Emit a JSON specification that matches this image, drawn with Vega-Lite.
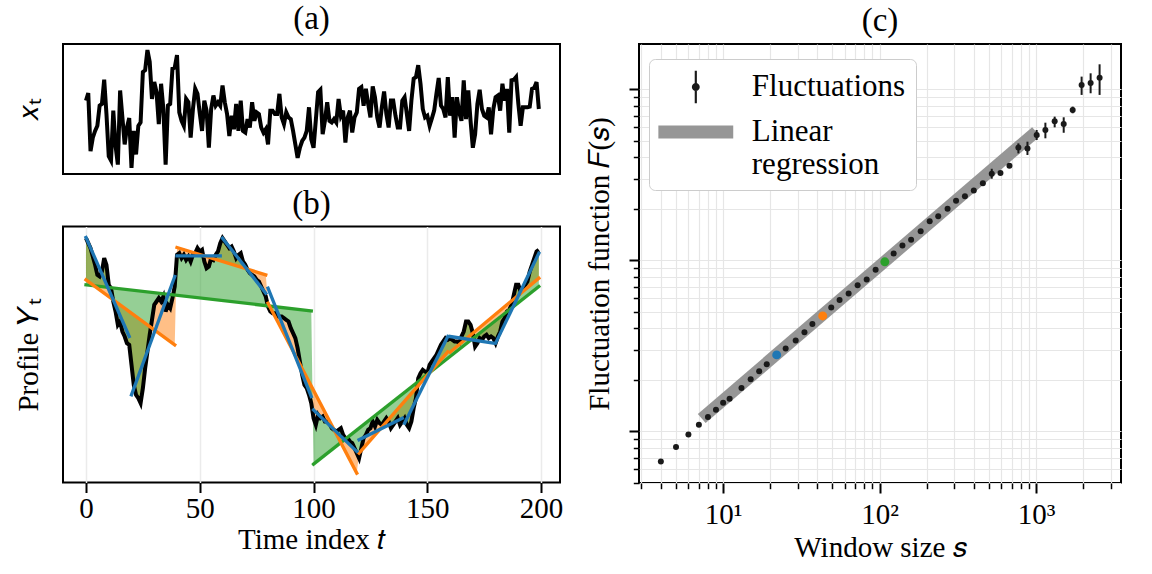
{
"$schema": "https://vega.github.io/schema/vega-lite/v6.json",
"padding": {"left": 13, "top": 2, "right": 5, "bottom": 5},
"config": {
  "font": "Liberation Serif",
  "view": {"stroke": "black", "strokeWidth": 2},
  "axis": {"domain": false, "labelFont": "Liberation Serif", "titleFont": "Liberation Serif", "labelFontSize": 29, "titleFontSize": 29, "titleFontWeight": "normal", "labelColor": "black", "titleColor": "black", "tickColor": "black", "tickWidth": 2, "tickSize": 10, "grid": false},
  "title": {"font": "Liberation Serif", "fontSize": 33, "fontWeight": "normal", "color": "black", "baseline": "alphabetic", "offset": 6}
},
"datasets": {
"ts": [
{"t":0,"x":21.8,"y":73.3,"o":60.8,"g":59.3},{"t":1,"x":24.0,"y":71.8,"o":60.3,"g":59.2},{"t":2,"x":6.8,"y":70.3,"o":59.8,"g":59.1},{"t":3,"x":10.8,"y":67.8,"o":59.3,"g":59.1},{"t":4,"x":12.8,"y":65.3,"o":58.8,"g":59.0},
{"t":5,"x":14.3,"y":62.3,"o":58.3,"g":58.9},{"t":6,"x":20.3,"y":61.8,"o":57.8,"g":58.8},{"t":7,"x":20.8,"y":63.3,"o":57.3,"g":58.7},{"t":8,"x":28.0,"y":67.3,"o":56.8,"g":58.7},{"t":9,"x":17.8,"y":65.3,"o":56.3,"g":58.6},
{"t":10,"x":5.3,"y":59.3,"o":55.8,"g":58.5},{"t":11,"x":4.0,"y":58.3,"o":55.3,"g":58.4},{"t":12,"x":18.8,"y":54.3,"o":54.8,"g":58.4},{"t":13,"x":8.3,"y":51.3,"o":54.3,"g":58.3},{"t":14,"x":2.8,"y":47.3,"o":53.8,"g":58.2},
{"t":15,"x":24.8,"y":48.3,"o":53.3,"g":58.1},{"t":16,"x":16.8,"y":45.3,"o":52.8,"g":58.0},{"t":17,"x":8.8,"y":43.8,"o":52.3,"g":58.0},{"t":18,"x":13.8,"y":41.8,"o":51.8,"g":57.9},{"t":19,"x":16.6,"y":41.3,"o":51.3,"g":57.8},
{"t":20,"x":1.8,"y":35.3,"o":50.8,"g":57.7},{"t":21,"x":12.8,"y":29.3,"o":50.3,"g":57.6},{"t":22,"x":5.8,"y":26.3,"o":49.8,"g":57.6},{"t":23,"x":14.3,"y":25.3,"o":49.3,"g":57.5},{"t":24,"x":15.3,"y":23.8,"o":48.8,"g":57.4},
{"t":25,"x":30.3,"y":28.3,"o":48.3,"g":57.3},{"t":26,"x":30.8,"y":34.3,"o":47.8,"g":57.2},{"t":27,"x":36.8,"y":39.3,"o":47.3,"g":57.2},{"t":28,"x":33.3,"y":44.3,"o":46.8,"g":57.1},{"t":29,"x":22.3,"y":48.8,"o":46.3,"g":57.0},
{"t":30,"x":27.3,"y":53.3,"o":45.8,"g":56.9},{"t":31,"x":24.3,"y":54.3,"o":45.3,"g":56.9},{"t":32,"x":14.8,"y":55.3,"o":44.8,"g":56.8},{"t":33,"x":26.8,"y":54.3,"o":44.3,"g":56.7},{"t":34,"x":19.3,"y":55.8,"o":43.8,"g":56.6},
{"t":35,"x":2.8,"y":51.3,"o":43.3,"g":56.5},{"t":36,"x":20.3,"y":53.3,"o":42.8,"g":56.5},{"t":37,"x":20.8,"y":52.3,"o":42.3,"g":56.4},{"t":38,"x":31.3,"y":55.3,"o":41.8,"g":56.3},{"t":39,"x":31.6,"y":58.8,"o":41.3,"g":56.2},
{"t":40,"x":35.3,"y":68.3,"o":70.5,"g":56.1},{"t":41,"x":18.3,"y":68.8,"o":70.3,"g":56.1},{"t":42,"x":15.8,"y":67.3,"o":70.1,"g":56.0},{"t":43,"x":14.3,"y":68.3,"o":69.9,"g":55.9},{"t":44,"x":22.3,"y":66.8,"o":69.7,"g":55.8},
{"t":45,"x":21.3,"y":67.8,"o":69.5,"g":55.7},{"t":46,"x":10.8,"y":66.3,"o":69.2,"g":55.7},{"t":47,"x":19.3,"y":68.3,"o":69.0,"g":55.6},{"t":48,"x":25.3,"y":68.8,"o":68.8,"g":55.5},{"t":49,"x":23.8,"y":70.3,"o":68.6,"g":55.4},
{"t":50,"x":18.0,"y":69.3,"o":68.4,"g":55.4},{"t":51,"x":12.8,"y":69.8,"o":68.2,"g":55.3},{"t":52,"x":21.8,"y":66.3,"o":68.0,"g":55.2},{"t":53,"x":18.8,"y":64.3,"o":67.8,"g":55.1},{"t":54,"x":7.8,"y":64.8,"o":67.6,"g":55.0},
{"t":55,"x":19.3,"y":67.3,"o":67.4,"g":55.0},{"t":56,"x":23.3,"y":66.8,"o":67.1,"g":54.9},{"t":57,"x":20.3,"y":68.3,"o":66.9,"g":54.8},{"t":58,"x":21.3,"y":69.3,"o":66.7,"g":54.7},{"t":59,"x":20.3,"y":71.8,"o":66.5,"g":54.6},
{"t":60,"x":26.3,"y":73.3,"o":66.3,"g":54.6},{"t":61,"x":21.3,"y":72.3,"o":66.1,"g":54.5},{"t":62,"x":17.8,"y":71.3,"o":65.9,"g":54.4},{"t":63,"x":11.3,"y":70.3,"o":65.7,"g":54.3},{"t":64,"x":17.3,"y":70.8,"o":65.5,"g":54.3},
{"t":65,"x":13.3,"y":69.3,"o":65.3,"g":54.2},{"t":66,"x":20.8,"y":67.3,"o":65.0,"g":54.1},{"t":67,"x":12.8,"y":68.3,"o":64.8,"g":54.0},{"t":68,"x":21.8,"y":68.8,"o":64.6,"g":53.9},{"t":69,"x":12.8,"y":66.3,"o":64.4,"g":53.9},
{"t":70,"x":12.3,"y":65.3,"o":64.2,"g":53.8},{"t":71,"x":16.3,"y":63.8,"o":64.0,"g":53.7},{"t":72,"x":13.8,"y":62.8,"o":63.8,"g":53.6},{"t":73,"x":21.3,"y":62.3,"o":63.6,"g":53.5},{"t":74,"x":15.8,"y":61.8,"o":63.4,"g":53.5},
{"t":75,"x":18.3,"y":60.8,"o":63.2,"g":53.4},{"t":76,"x":17.8,"y":60.3,"o":62.9,"g":53.3},{"t":77,"x":13.8,"y":58.8,"o":62.7,"g":53.2},{"t":78,"x":12.3,"y":57.3,"o":62.5,"g":53.2},{"t":79,"x":13.3,"y":55.8,"o":62.3,"g":53.1},
{"t":80,"x":8.8,"y":52.8,"o":53.8,"g":53.0},{"t":81,"x":18.8,"y":51.3,"o":52.5,"g":52.9},{"t":82,"x":18.8,"y":50.8,"o":51.2,"g":52.8},{"t":83,"x":17.8,"y":50.8,"o":49.9,"g":52.8},{"t":84,"x":17.8,"y":49.8,"o":48.6,"g":52.7},
{"t":85,"x":23.8,"y":49.8,"o":47.3,"g":52.6},{"t":86,"x":16.8,"y":49.8,"o":46.0,"g":52.5},{"t":87,"x":14.8,"y":49.3,"o":44.6,"g":52.4},{"t":88,"x":18.3,"y":48.8,"o":43.3,"g":52.4},{"t":89,"x":16.8,"y":48.3,"o":42.0,"g":52.3},
{"t":90,"x":16.3,"y":46.3,"o":40.7,"g":52.2},{"t":91,"x":12.8,"y":44.8,"o":39.4,"g":52.1},{"t":92,"x":8.8,"y":43.3,"o":38.1,"g":52.0},{"t":93,"x":4.8,"y":40.3,"o":36.8,"g":52.0},{"t":94,"x":7.8,"y":36.3,"o":35.5,"g":51.9},
{"t":95,"x":9.8,"y":32.3,"o":34.2,"g":51.8},{"t":96,"x":10.8,"y":29.3,"o":32.9,"g":51.7},{"t":97,"x":12.8,"y":28.3,"o":31.6,"g":51.7},{"t":98,"x":19.8,"y":26.3,"o":30.3,"g":51.6},{"t":99,"x":10.3,"y":23.8,"o":28.9,"g":51.5},
{"t":100,"x":7.8,"y":19.3,"o":27.6,"g":5.5},{"t":101,"x":16.0,"y":17.3,"o":26.3,"g":6.0},{"t":102,"x":24.3,"y":20.3,"o":25.0,"g":6.6},{"t":103,"x":25.0,"y":19.3,"o":23.7,"g":7.1},{"t":104,"x":11.8,"y":19.8,"o":22.4,"g":7.7},
{"t":105,"x":15.8,"y":18.3,"o":21.1,"g":8.2},{"t":106,"x":21.3,"y":18.3,"o":19.8,"g":8.7},{"t":107,"x":15.8,"y":17.8,"o":18.5,"g":9.3},{"t":108,"x":15.3,"y":16.3,"o":17.2,"g":9.8},{"t":109,"x":16.3,"y":15.8,"o":15.9,"g":10.3},
{"t":110,"x":15.3,"y":15.3,"o":14.6,"g":10.9},{"t":111,"x":22.3,"y":15.8,"o":13.3,"g":11.4},{"t":112,"x":17.3,"y":16.3,"o":12.0,"g":12.0},{"t":113,"x":18.8,"y":14.3,"o":10.6,"g":12.5},{"t":114,"x":9.3,"y":13.3,"o":9.3,"g":13.0},
{"t":115,"x":16.8,"y":13.3,"o":8.0,"g":13.6},{"t":116,"x":18.8,"y":12.3,"o":6.7,"g":14.1},{"t":117,"x":12.3,"y":11.8,"o":5.4,"g":14.7},{"t":118,"x":16.8,"y":10.3,"o":4.1,"g":15.2},{"t":119,"x":18.3,"y":8.8,"o":2.8,"g":15.7},
{"t":120,"x":25.3,"y":7.3,"o":8.8,"g":16.3},{"t":121,"x":25.8,"y":10.3,"o":9.6,"g":16.8},{"t":122,"x":20.3,"y":13.3,"o":10.4,"g":17.3},{"t":123,"x":25.3,"y":14.3,"o":11.1,"g":17.9},{"t":124,"x":20.8,"y":15.8,"o":11.9,"g":18.4},
{"t":125,"x":16.8,"y":16.3,"o":12.7,"g":19.0},{"t":126,"x":26.0,"y":18.3,"o":13.5,"g":19.5},{"t":127,"x":22.8,"y":16.8,"o":14.3,"g":20.0},{"t":128,"x":16.8,"y":18.8,"o":15.0,"g":20.6},{"t":129,"x":13.8,"y":17.8,"o":15.8,"g":21.1},
{"t":130,"x":19.8,"y":17.3,"o":16.6,"g":21.7},{"t":131,"x":24.5,"y":18.3,"o":17.4,"g":22.2},{"t":132,"x":17.8,"y":19.3,"o":18.2,"g":22.7},{"t":133,"x":13.8,"y":18.3,"o":18.9,"g":23.3},{"t":134,"x":21.8,"y":16.3,"o":19.7,"g":23.8},
{"t":135,"x":21.8,"y":17.3,"o":20.5,"g":24.3},{"t":136,"x":17.3,"y":18.3,"o":21.3,"g":24.9},{"t":137,"x":13.8,"y":19.3,"o":22.1,"g":25.4},{"t":138,"x":13.8,"y":17.3,"o":22.8,"g":26.0},{"t":139,"x":21.8,"y":18.3,"o":23.6,"g":26.5},
{"t":140,"x":22.8,"y":19.3,"o":24.4,"g":27.0},{"t":141,"x":17.8,"y":17.3,"o":25.2,"g":27.6},{"t":142,"x":12.8,"y":16.3,"o":26.0,"g":28.1},{"t":143,"x":21.8,"y":18.3,"o":26.7,"g":28.7},{"t":144,"x":28.3,"y":22.3,"o":27.5,"g":29.2},
{"t":145,"x":28.8,"y":25.3,"o":28.3,"g":29.7},{"t":146,"x":32.3,"y":31.3,"o":29.1,"g":30.3},{"t":147,"x":26.8,"y":32.8,"o":29.9,"g":30.8},{"t":148,"x":19.3,"y":33.8,"o":30.6,"g":31.3},{"t":149,"x":16.8,"y":33.3,"o":31.4,"g":31.9},
{"t":150,"x":17.3,"y":32.8,"o":32.2,"g":32.4},{"t":151,"x":14.3,"y":35.3,"o":33.0,"g":33.0},{"t":152,"x":16.5,"y":36.3,"o":33.8,"g":33.5},{"t":153,"x":18.8,"y":37.3,"o":34.5,"g":34.0},{"t":154,"x":23.8,"y":38.3,"o":35.3,"g":34.6},
{"t":155,"x":28.5,"y":39.8,"o":36.1,"g":35.1},{"t":156,"x":20.3,"y":41.3,"o":36.9,"g":35.7},{"t":157,"x":19.3,"y":42.3,"o":37.7,"g":36.2},{"t":158,"x":16.8,"y":43.3,"o":38.4,"g":36.7},{"t":159,"x":28.8,"y":42.8,"o":39.2,"g":37.3},
{"t":160,"x":17.3,"y":43.3,"o":39.1,"g":37.8},{"t":161,"x":22.8,"y":42.8,"o":39.7,"g":38.3},{"t":162,"x":10.8,"y":42.3,"o":40.2,"g":38.9},{"t":163,"x":22.8,"y":42.3,"o":40.8,"g":39.4},{"t":164,"x":18.3,"y":41.8,"o":41.4,"g":40.0},
{"t":165,"x":15.8,"y":43.8,"o":41.9,"g":40.5},{"t":166,"x":27.8,"y":45.3,"o":42.5,"g":41.0},{"t":167,"x":16.3,"y":48.3,"o":43.1,"g":41.6},{"t":168,"x":24.8,"y":48.3,"o":43.7,"g":42.1},{"t":169,"x":15.8,"y":47.3,"o":44.2,"g":42.7},
{"t":170,"x":7.8,"y":44.8,"o":44.8,"g":43.2},{"t":171,"x":11.8,"y":40.8,"o":45.4,"g":43.7},{"t":172,"x":20.8,"y":41.8,"o":45.9,"g":44.3},{"t":173,"x":25.0,"y":43.3,"o":46.5,"g":44.8},{"t":174,"x":19.3,"y":42.8,"o":47.1,"g":45.3},
{"t":175,"x":17.3,"y":43.8,"o":47.6,"g":45.9},{"t":176,"x":16.8,"y":44.3,"o":48.2,"g":46.4},{"t":177,"x":19.8,"y":43.3,"o":48.8,"g":47.0},{"t":178,"x":11.8,"y":43.8,"o":49.4,"g":47.5},{"t":179,"x":19.3,"y":43.3,"o":49.9,"g":48.0},
{"t":180,"x":22.8,"y":41.8,"o":50.5,"g":48.6},{"t":181,"x":23.3,"y":43.8,"o":51.1,"g":49.1},{"t":182,"x":18.8,"y":45.3,"o":51.6,"g":49.7},{"t":183,"x":26.8,"y":48.3,"o":52.2,"g":50.2},{"t":184,"x":21.8,"y":49.3,"o":52.8,"g":50.7},
{"t":185,"x":25.3,"y":51.3,"o":53.4,"g":51.3},{"t":186,"x":12.3,"y":51.8,"o":53.9,"g":51.8},{"t":187,"x":27.8,"y":53.3,"o":54.5,"g":52.3},{"t":188,"x":28.0,"y":56.3,"o":55.1,"g":52.9},{"t":189,"x":28.8,"y":59.3,"o":55.6,"g":53.4},
{"t":190,"x":20.8,"y":59.3,"o":56.2,"g":54.0},{"t":191,"x":14.3,"y":57.3,"o":56.8,"g":54.5},{"t":192,"x":19.8,"y":58.3,"o":57.3,"g":55.0},{"t":193,"x":19.8,"y":59.3,"o":57.9,"g":55.6},{"t":194,"x":19.8,"y":60.3,"o":58.5,"g":56.1},
{"t":195,"x":20.0,"y":63.3,"o":59.1,"g":56.6},{"t":196,"x":25.3,"y":65.3,"o":59.6,"g":57.2},{"t":197,"x":25.6,"y":67.3,"o":60.2,"g":57.7},{"t":198,"x":27.3,"y":69.3,"o":60.8,"g":58.3},{"t":199,"x":19.3,"y":69.8,"o":61.3,"g":58.8}
],
"blue": [
{"w":0,"t":0,"v":73.5},{"w":0,"t":19,"v":43.8},{"w":1,"t":20,"v":26.3},{"w":1,"t":39,"v":61.8},
{"w":2,"t":40,"v":68.0},{"w":2,"t":59,"v":68.0},{"w":3,"t":60,"v":73.3},{"w":3,"t":79,"v":56.8},
{"w":4,"t":80,"v":58.3},{"w":4,"t":99,"v":25.8},{"w":5,"t":100,"v":21.8},{"w":5,"t":119,"v":9.3},
{"w":6,"t":120,"v":12.8},{"w":6,"t":139,"v":19.3},{"w":7,"t":140,"v":17.8},{"w":7,"t":159,"v":43.8},
{"w":8,"t":160,"v":43.8},{"w":8,"t":179,"v":41.8},{"w":9,"t":180,"v":41.8},{"w":9,"t":199,"v":68.8}
],
"orange": [
{"w":0,"t":0,"v":60.8},{"w":0,"t":39,"v":41.3},{"w":1,"t":40,"v":70.5},{"w":1,"t":79,"v":62.3},
{"w":2,"t":80,"v":53.8},{"w":2,"t":119,"v":2.8},{"w":3,"t":120,"v":8.8},{"w":3,"t":159,"v":39.2},
{"w":4,"t":160,"v":39.1},{"w":4,"t":199,"v":61.3}
],
"green": [
{"w":0,"t":0,"v":59.3},{"w":0,"t":99,"v":51.5},{"w":1,"t":100,"v":5.5},{"w":1,"t":199,"v":58.8}
],
"dfa": [
{"s":4.0,"F":0.667},{"s":5.0,"F":0.81},{"s":6.0,"F":0.96},{"s":7.0,"F":1.094},{"s":8.0,"F":1.213},
{"s":9.0,"F":1.34},{"s":10,"F":1.472},{"s":11,"F":1.553},{"s":13.1,"F":1.794},{"s":15.0,"F":2.016},
{"s":17.0,"F":2.245},{"s":19.0,"F":2.466},{"s":25.1,"F":3.05},{"s":29.1,"F":3.40},
{"s":33.1,"F":3.80},{"s":37.2,"F":4.25},{"s":49.1,"F":5.30},{"s":55.5,"F":5.87},
{"s":63.4,"F":6.40},{"s":72.4,"F":7.16},{"s":82.7,"F":7.73},{"s":94.3,"F":8.80},{"s":123,"F":10.96},
{"s":140,"F":12.2},{"s":159,"F":13.2},{"s":183,"F":14.8},{"s":209,"F":16.9},{"s":237,"F":18.1},
{"s":272,"F":20.0},{"s":308,"F":22.3},{"s":351,"F":23.7},{"s":400,"F":25.6},{"s":457,"F":28.2},
{"s":521,"F":32.1},{"s":592,"F":32.4},{"s":676,"F":35.7},{"s":771,"F":45.6},{"s":881,"F":45.1},
{"s":1009,"F":54.0},{"s":1147,"F":57.8},{"s":1315,"F":65.0},{"s":1502,"F":62.7},{"s":1714,"F":75.7},
{"s":1955,"F":106},{"s":2232,"F":109},{"s":2547,"F":117}
],
"err": [
{"s":521,"lo":30.0,"hi":34.3},{"s":771,"lo":42.2,"hi":48.3},{"s":881,"lo":41.3,"hi":49.4},
{"s":1009,"lo":50.5,"hi":57.8},{"s":1147,"lo":51.7,"hi":63.8},{"s":1315,"lo":59.9,"hi":69.2},
{"s":1502,"lo":55.7,"hi":68.6},{"s":1714,"lo":72.4,"hi":79.2},{"s":1955,"lo":92.7,"hi":118.6},
{"s":2232,"lo":94.8,"hi":124},{"s":2547,"lo":92.7,"hi":140}
],
"hl": [
{"n":20,"s":22.0,"F":2.8},{"n":40,"s":43.3,"F":4.73},{"n":100,"s":108,"F":9.8}
],
"reg": [
{"s":7.3,"F":1.19},{"s":1000,"F":56.5}
],
"leg": [
{"lab":"Fluctuations"},{"lab":"Linear regression"}
]
},
"hconcat": [
{
 "vconcat": [
  {
   "width": 497, "height": 130,
   "title": {"text": "(a)"},
   "data": {"name": "ts"},
   "mark": {"type": "line", "color": "black", "strokeWidth": 4},
   "encoding": {
     "x": {"field": "t", "type": "quantitative", "scale": {"domain": [-10.1, 208.3], "nice": false, "zero": false}, "axis": null},
     "y": {"field": "x", "type": "quantitative", "scale": {"domain": [0, 38.6], "nice": false, "zero": false}, "axis": {"title": "𝑥ₜ", "labels": false, "ticks": false, "grid": false, "titlePadding": 20}}
   }
  },
  {
   "width": 497, "height": 256,
   "title": {"text": "(b)"},
   "encoding": {
     "x": {"field": "t", "type": "quantitative", "scale": {"domain": [-10.1, 208.3], "nice": false, "zero": false}, "axis": {"title": "Time index 𝑡", "values": [0, 50, 100, 150, 200], "grid": true, "gridColor": "#ebebeb", "gridWidth": 1.5, "labelPadding": 2, "titlePadding": 2}}
   },
   "layer": [
    {"data": {"name": "ts"}, "mark": {"type": "area", "color": "#ff7f0e", "opacity": 0.5},
     "encoding": {"y": {"field": "y", "type": "quantitative", "scale": {"domain": [0, 76.8], "nice": false, "zero": false}, "axis": {"title": "Profile 𝑌ₜ", "labels": false, "ticks": false, "grid": false, "titlePadding": 20}}, "y2": {"field": "o"}}},
    {"data": {"name": "ts"}, "mark": {"type": "area", "color": "#2ca02c", "opacity": 0.5},
     "encoding": {"y": {"field": "y", "type": "quantitative"}, "y2": {"field": "g"}}},
    {"data": {"name": "ts"}, "mark": {"type": "line", "color": "black", "strokeWidth": 4},
     "encoding": {"y": {"field": "y", "type": "quantitative"}}},
    {"data": {"name": "green"}, "mark": {"type": "line", "color": "#2ca02c", "strokeWidth": 3.3, "strokeCap": "square"},
     "encoding": {"y": {"field": "v", "type": "quantitative"}, "detail": {"field": "w"}}},
    {"data": {"name": "orange"}, "mark": {"type": "line", "color": "#ff7f0e", "strokeWidth": 3.3, "strokeCap": "square"},
     "encoding": {"y": {"field": "v", "type": "quantitative"}, "detail": {"field": "w"}}},
    {"data": {"name": "blue"}, "mark": {"type": "line", "color": "#1f77b4", "strokeWidth": 3.3, "strokeCap": "square"},
     "encoding": {"y": {"field": "v", "type": "quantitative"}, "detail": {"field": "w"}}}
   ]
  }
 ],
 "spacing": 52.5,
 "bounds": "flush"
},
{
 "width": 482, "height": 439,
 "title": {"text": "(c)"},
 "layer": [
  {"data": {"name": "reg"}, "mark": {"type": "line", "color": "#969696", "strokeWidth": 12, "strokeCap": "butt"},
   "encoding": {
     "x": {"field": "s", "type": "quantitative", "scale": {"type": "log", "domain": [2.9, 3490], "nice": false},
       "axis": {"title": "Window size 𝑠", "tickCount": 30, "grid": true, "gridColor": "#e6e6e6", "gridWidth": 1.2,
         "labelExpr": "datum.value == 10 ? '10¹' : datum.value == 100 ? '10²' : datum.value == 1000 ? '10³' : ''",
         "labelOverlap": false, "labelFlush": false, "labelPadding": 7, "titlePadding": 4,
         "tickSize": {"condition": {"test": "datum.value == 10 || datum.value == 100 || datum.value == 1000", "value": 10}, "value": 5.7},
         "tickWidth": {"condition": {"test": "datum.value == 10 || datum.value == 100 || datum.value == 1000", "value": 2}, "value": 1.5}}},
     "y": {"field": "F", "type": "quantitative", "scale": {"type": "log", "domain": [0.499, 184], "nice": false},
       "axis": {"title": "Fluctuation function 𝐹(𝑠)", "tickCount": 30, "grid": true, "gridColor": "#e6e6e6", "gridWidth": 1.2, "labels": false, "titlePadding": 14,
         "tickSize": {"condition": {"test": "datum.value == 1 || datum.value == 10 || datum.value == 100", "value": 10}, "value": 5.7},
         "tickWidth": {"condition": {"test": "datum.value == 1 || datum.value == 10 || datum.value == 100", "value": 2}, "value": 1.5}}}
   }},
  {"data": {"name": "err"}, "mark": {"type": "rule", "color": "#1a1a1a", "strokeWidth": 2},
   "encoding": {"x": {"field": "s", "type": "quantitative"}, "y": {"field": "lo", "type": "quantitative"}, "y2": {"field": "hi"}}},
  {"data": {"name": "dfa"}, "mark": {"type": "circle", "color": "#1a1a1a", "size": 36, "opacity": 1},
   "encoding": {"x": {"field": "s", "type": "quantitative"}, "y": {"field": "F", "type": "quantitative"}}},
  {"data": {"name": "hl"}, "mark": {"type": "circle", "size": 80, "opacity": 1},
   "encoding": {"x": {"field": "s", "type": "quantitative"}, "y": {"field": "F", "type": "quantitative"},
     "color": {"field": "n", "type": "nominal", "scale": {"domain": [20, 40, 100], "range": ["#1f77b4", "#ff7f0e", "#2ca02c"]}, "legend": null}}},
  {"data": {"name": "leg"}, "mark": {"type": "point", "filled": true, "opacity": 0},
   "encoding": {
     "fill": {"field": "lab", "type": "nominal", "scale": {"domain": ["Fluctuations", "Linear regression"], "range": ["#1a1a1a", "#969696"]},
       "legend": {"title": null, "orient": "none", "legendX": 586, "legendY": 15, "padding": 10, "fillColor": "white", "strokeColor": "#cccccc", "cornerRadius": 6,
         "labelFontSize": 31, "labelFont": "Liberation Serif", "labelColor": "black", "symbolSize": 1296, "symbolOpacity": 1,
         "symbolFillColor": "#1a1a1a", "symbolStrokeWidth": 0,
         "symbolOffset": 18.8, "labelOffset": 38, "rowPadding": 10, "labelLimit": 500, "labelBaseline": "middle",
         "labelExpr": "datum.label == 'Linear regression' ? ['Linear', 'regression'] : datum.label",
         "encode": {"symbols": {"update": {"fill": {"signal": "datum.label == 'Fluctuations' ? '#1a1a1a' : '#969696'"}, "fillOpacity": {"value": 1}, "opacity": {"value": 1}}}}}},
     "shape": {"field": "lab", "type": "nominal", "scale": {"domain": ["Fluctuations", "Linear regression"], "range": ["M-0.06,-0.9L0.06,-0.9L0.06,0.9L-0.06,0.9Z M-0.22,0A0.22,0.22 0 1,1 0.22,0A0.22,0.22 0 1,1 -0.22,0Z", "M-2.08,-0.36L2.08,-0.36L2.08,0.36L-2.08,0.36Z"]}}
   }}
 ]
}
],
"spacing": 20,
"bounds": "full"
}
